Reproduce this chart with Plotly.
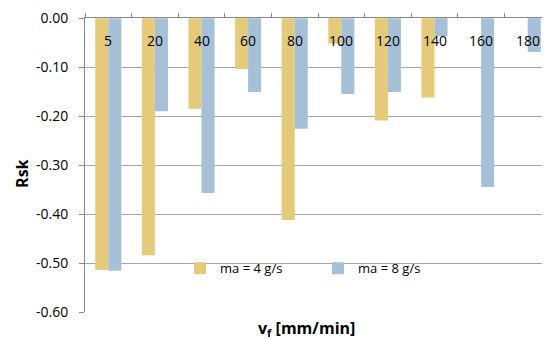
import plotly.graph_objects as go

categories = ["5", "20", "40", "60", "80", "100", "120", "140", "160", "180"]
ma4 = [-0.514, -0.484, -0.185, -0.104, -0.412, -0.052, -0.209, -0.162, 0.0, 0.0]
ma8 = [-0.516, -0.190, -0.357, -0.151, -0.226, -0.155, -0.151, -0.037, -0.345, -0.069]
yticks = [0.0, -0.1, -0.2, -0.3, -0.4, -0.5, -0.6]
ytick_labels = ["0.00", "-0.10", "-0.20", "-0.30", "-0.40", "-0.50", "-0.60"]

FONT = "Open Sans"

fig = go.Figure()
fig.add_trace(go.Bar(x=categories, y=ma4, name="ma = 4 g/s",
                     marker=dict(color="#E5CA7A", line=dict(width=0))))
fig.add_trace(go.Bar(x=categories, y=ma8, name="ma = 8 g/s",
                     marker=dict(color="#A6C0D8", line=dict(width=0))))

fig.update_layout(
    width=550, height=339,
    margin=dict(l=77, r=7, t=10, b=35),
    paper_bgcolor="white", plot_bgcolor="white",
    barmode="group", bargap=0.44, bargroupgap=0,
    font=dict(family=FONT, size=13, color="black"),
    showlegend=True,
    legend=dict(orientation="h", x=0.204, y=0.149, xanchor="left", yanchor="middle",
                bgcolor="rgba(0,0,0,0)", font=dict(size=13),
                entrywidth=93, entrywidthmode="pixels", itemwidth=30),
    xaxis=dict(side="top", type="category", categoryorder="array",
               categoryarray=categories, range=[-0.5, len(categories) - 0.5],
               ticks="outside", tickson="boundaries",
               ticklen=4, tickcolor="#888888", showline=True, linecolor="#888888",
               showticklabels=False, showgrid=False, zeroline=False,
               automargin=False),
    yaxis=dict(range=[-0.6, 0.0003], tickvals=yticks, ticktext=ytick_labels,
               showgrid=True, gridcolor="#A6A6A6", gridwidth=1,
               showline=True, linecolor="#888888", ticks="outside", ticklen=5,
               tickcolor="#888888", tickfont=dict(size=14), zeroline=False,
               ticklabelstandoff=8, automargin=False),
)

# category labels drawn just below the zero line (Excel-style axis crossing at 0)
for i, c in enumerate(categories):
    fig.add_annotation(x=i, y=0, xref="x", yref="y", text=c, showarrow=False,
                       font=dict(size=14), yanchor="middle", yshift=-22)

fig.add_annotation(x=-0.135, y=0.47, xref="paper", yref="paper",
                   text="<b>Rsk</b>", showarrow=False, textangle=-90,
                   font=dict(size=16), xanchor="center", yanchor="middle")

fig.add_annotation(x=0.475, y=-0.055, xref="paper", yref="paper",
                   text="<b>v<sub>f</sub> [mm/min]</b>", showarrow=False,
                   font=dict(size=16), xanchor="center", yanchor="middle")

fig.write_html("out.html")
